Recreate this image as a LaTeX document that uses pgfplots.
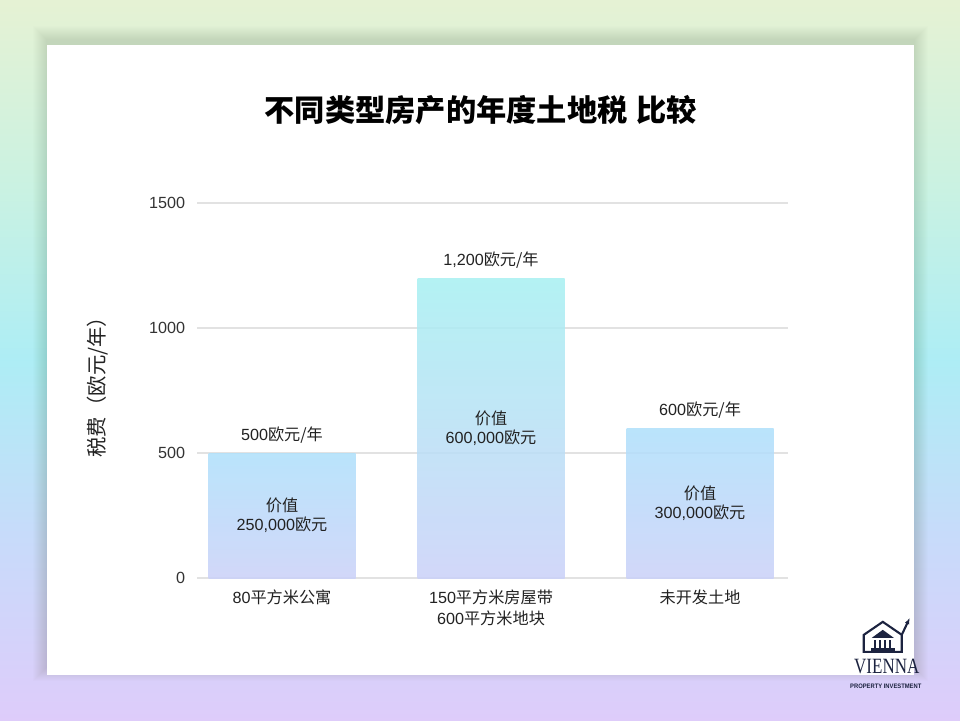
\documentclass[border=0pt]{standalone}
\usepackage{fontspec}
\setmainfont{Liberation Sans}
\newfontfamily\cjk{Noto Sans CJK SC}
\newfontfamily\logoserif{Liberation Serif}
\usepackage{pgfplots}
\pgfplotsset{compat=1.18}
\usetikzlibrary{arrows.meta}

\definecolor{txt}{HTML}{222222}
\definecolor{ticktxt}{HTML}{333333}
\definecolor{gridc}{HTML}{E2E2E2}
\definecolor{navy}{HTML}{1C2340}
\definecolor{shadowc}{RGB}{60,80,50}
\definecolor{barTopA}{RGB}{174,224,251}
\definecolor{barTopB}{RGB}{167,240,242}
\definecolor{barBot}{RGB}{202,209,249}

% page background: green at the top, cyan in the middle, lavender at the bottom
\pgfdeclareverticalshading{pagebg}{100bp}{%
  rgb(0bp)=(0.87,0.80,0.98); rgb(25bp)=(0.87,0.80,0.98);
  rgb(38bp)=(0.78,0.86,0.98); rgb(50bp)=(0.68,0.93,0.96);
  rgb(63bp)=(0.80,0.95,0.88); rgb(75bp)=(0.90,0.95,0.83);
  rgb(100bp)=(0.90,0.95,0.83)}

\begin{document}
\begin{tikzpicture}
\path[use as bounding box] (0,0) rectangle (24cm,18cm);
\shade[shading=pagebg] (0,0) rectangle (24cm,18cm);

% pixel-based scope for the decoration (origin top-left, 1px = 0.025cm)
\begin{scope}[x=0.025cm,y=-0.025cm,yshift=18cm]
  % soft shadow round the card, a little above it
  \foreach \i in {1,...,14}
    \fill[shadowc, opacity=0.011] (47-\i,45-\i-5) rectangle (914+\i,675+\i-8);
  \fill[white] (47,45) rectangle (914,675);
  \node[font=\cjk\bfseries\fontsize{21.5}{25}\selectfont, text=black] at (481,110)
    {不同类型房产的年度土地税\hspace{0.3em}比较};
  % logo
  \begin{scope}[navy, line width=1.5pt, line join=miter]
    \draw (864,652) -- (864,635) -- (883,622) -- (902,635) -- (902,652) -- cycle;
    \draw[-{Latex[length=4.5pt]}] (902,635) -- (910,618);
    \fill (872,638) -- (883,630) -- (894,638) -- cycle;
    \foreach \c in {875,880,885,890} \fill (\c-1.2,640) rectangle (\c+1.2,648);
    \fill (871,648.5) rectangle (895,651);
  \end{scope}
  \node[font=\logoserif\fontsize{15.5}{15.5}\selectfont, text=navy, xscale=0.78] at (887,667) {VIENNA};
  \node[font=\bfseries\fontsize{4.6}{5}\selectfont, text=navy, xscale=0.9] at (886,686) {PROPERTY INVESTMENT};
\end{scope}

\begin{axis}[
  at={(4.925cm,3.55cm)}, anchor=south west,
  scale only axis, width=14.775cm, height=9.375cm,
  xmin=-0.4067, xmax=2.421, ymin=0, ymax=1500,
  xtick={0,1,2},
  xticklabels={{80{\cjk 平方米公寓}}, {150{\cjk 平方米房屋带}\\600{\cjk 平方米地块}}, {{\cjk 未开发土地}}},
  ytick={0,500,1000,1500},
  /pgf/number format/1000 sep={},
  /pgf/number format/assume math mode=true,
  axis line style={draw=none},
  major tick length=0pt,
  ymajorgrids, grid style={gridc, line width=0.8pt},
  xticklabel style={align=center, font=\fontsize{11.5}{15}\selectfont, text=txt, yshift=-5pt},
  yticklabel style={font=\fontsize{11.5}{14}\selectfont, text=ticktxt, xshift=-5pt},
  ylabel={\cjk 税费（欧元/年）},
  ylabel style={at={(axis description cs:-0.169,0.5)}, anchor=center, xshift=6pt,
    font=\fontsize{14.5}{17}\selectfont, text=txt},
  clip=false,
]
\addplot[ybar, bar width=3.675cm, bar shift=0pt, draw=none, fill opacity=0.85,
  top color=barTopA, bottom color=barBot] coordinates {(0,500)};
\addplot[ybar, bar width=3.675cm, bar shift=0pt, draw=none, fill opacity=0.85,
  top color=barTopB, middle color=barTopA, bottom color=barBot] coordinates {(1,1200)};
\addplot[ybar, bar width=3.675cm, bar shift=0pt, draw=none, fill opacity=0.85,
  top color=barTopA, bottom color=barBot] coordinates {(2,600)};

\begin{scope}[font=\fontsize{11.5}{13.5}\selectfont, text=txt]
\node[anchor=south, yshift=3pt] at (axis cs:0,500) {500{\cjk 欧元/年}};
\node[anchor=south, yshift=3pt] at (axis cs:1,1200) {1,200{\cjk 欧元/年}};
\node[anchor=south, yshift=3pt] at (axis cs:2,600) {600{\cjk 欧元/年}};
\node[align=center] at (axis cs:0,250) {{\cjk 价值}\\250,000{\cjk 欧元}};
\node[align=center] at (axis cs:1,600) {{\cjk 价值}\\600,000{\cjk 欧元}};
\node[align=center] at (axis cs:2,300) {{\cjk 价值}\\300,000{\cjk 欧元}};
\end{scope}
\end{axis}
\end{tikzpicture}
\end{document}
